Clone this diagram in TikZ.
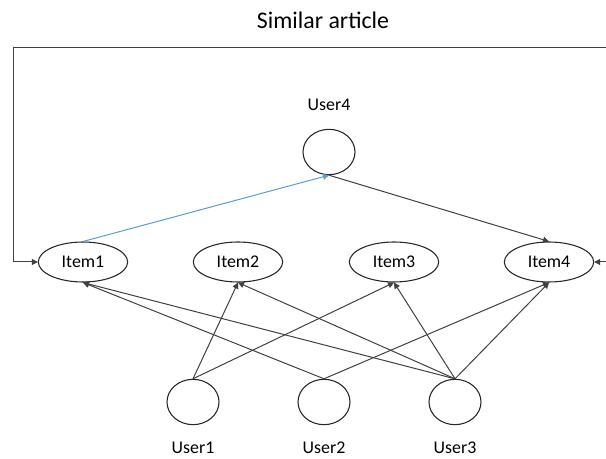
\documentclass[tikz,border=0pt]{standalone}
\usepackage{fontspec}
\setmainfont{Carlito}
\usetikzlibrary{shapes.geometric,arrows.meta}
\definecolor{edgegray}{HTML}{404040}
\definecolor{edgeblue}{HTML}{5B9BD5}
\tikzset{
  itembox/.style={draw=black!85, line width=0.8pt, ellipse, inner sep=0pt,
    minimum width=67pt, minimum height=30pt, font=\fontsize{13.4}{15}\selectfont},
  userbox/.style={draw=black!85, line width=0.8pt, ellipse, inner sep=0pt,
    minimum width=39pt, minimum height=34pt},
  lbl/.style={font=\fontsize{13.4}{15}\selectfont, inner sep=0pt},
  conn/.style={draw=edgegray, line width=0.75pt, -{Triangle[length=4.5pt,width=4.5pt]}},
  bconn/.style={draw=edgeblue, line width=0.75pt, -{Triangle[length=4.5pt,width=4.5pt]}},
}
\begin{document}
\begin{tikzpicture}[x=0.75pt,y=-0.75pt]
\useasboundingbox (0,0) rectangle (606,459);
\node[lbl, font=\fontsize{17.9}{20}\selectfont] (title) at (323,20) {Similar article};
\node[itembox] (i1) at (83,262) {Item1};
\node[itembox] (i2) at (238,262) {Item2};
\node[itembox] (i3) at (394,262) {Item3};
\node[itembox] (i4) at (549,262) {Item4};
\node[userbox] (u4) at (329,152) {};
\node[userbox] (u1) at (193,402) {};
\node[userbox] (u2) at (324,402) {};
\node[userbox] (u3) at (455,402) {};
\node[lbl] (l4) at (329,105) {User4};
\node[lbl] (l1) at (193,448) {User1};
\node[lbl] (l2) at (324,448) {User2};
\node[lbl] (l3) at (455,448) {User3};
\coordinate (fr) at (606,48);
\coordinate (frr) at (606,262);
\draw[conn] (fr) -- (13,48) -- (13,262) -- (i1.west);
\draw[conn] (frr) -- (i4.east);
\draw[bconn] (i1.north) -- (u4.south);
\draw[conn] (u4.south) -- (i4.north);
\draw[conn] (u1.north) -- (i2.south);
\draw[conn] (u1.north) -- (i3.south);
\draw[conn] (u2.north) -- (i1.south);
\draw[conn] (u2.north) -- (i4.south);
\draw[conn] (u3.north) -- (i1.south);
\draw[conn] (u3.north) -- (i2.south);
\draw[conn] (u3.north) -- (i3.south);
\draw[conn] (u3.north) -- (i4.south);
\end{tikzpicture}
\end{document}
